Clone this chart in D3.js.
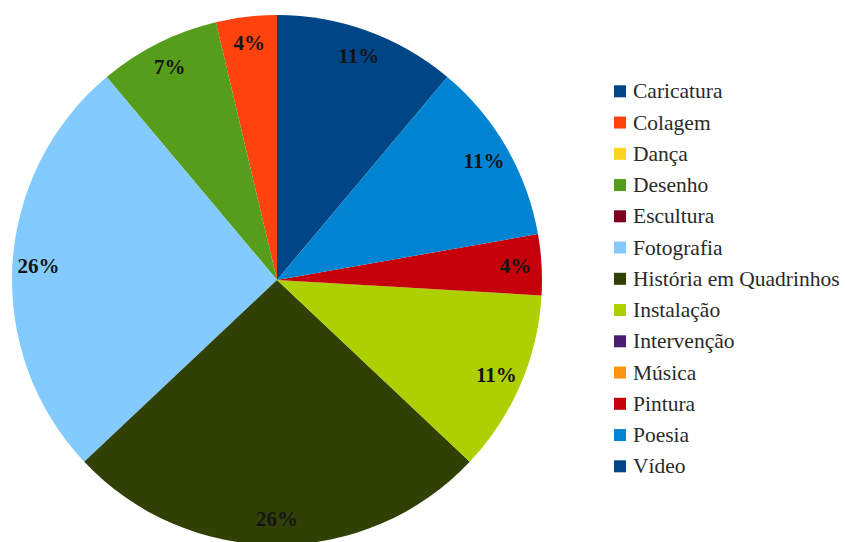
<!DOCTYPE html>
<html>
<head>
<meta charset="utf-8">
<script src="https://cdn.jsdelivr.net/npm/d3@7"></script>
<style>
  html, body { margin: 0; padding: 0; background: #fff; }
  svg text { font-family: "Liberation Serif", "Times New Roman", "DejaVu Serif", serif; }
</style>
</head>
<body>
<div id="chart"></div>
<script>
// Legend order (as in the original spreadsheet)
const categories = [
  'Caricatura', 'Colagem', 'Dança', 'Desenho', 'Escultura', 'Fotografia',
  'História em Quadrinhos', 'Instalação', 'Intervenção', 'Música',
  'Pintura', 'Poesia', 'Vídeo'
];
const counts = [3, 1, 0, 2, 0, 7, 7, 3, 0, 0, 1, 3, 0];
const colors = [
  '#004586', '#ff420e', '#ffd320', '#579d1c', '#7e0021', '#83caff',
  '#314004', '#aecf00', '#4b1f6f', '#ff950e', '#c5000b', '#0084d1', '#004586'
];

const width = 845, height = 542;
const cx = 277, cy = 280, radius = 265;

const data = categories.map((c, i) => ({ name: c, value: counts[i], color: colors[i] }));
const total = d3.sum(counts);

const svg = d3.select('#chart')
  .append('svg')
  .attr('width', width)
  .attr('height', height);

// Slices run counter-clockwise; first slice ends at 12 o'clock
const start = 2 * Math.PI * counts[0] / total;
const pie = d3.pie()
  .sort(null)
  .value(d => d.value)
  .startAngle(start)
  .endAngle(start - 2 * Math.PI);

const arc = d3.arc().innerRadius(0).outerRadius(radius);
const labelArc = d3.arc().innerRadius(239).outerRadius(239);

const g = svg.append('g')
  .attr('transform', `translate(${cx},${cy})`);

const slices = pie(data).filter(d => d.data.value > 0);

g.selectAll('path.slice')
  .data(slices)
  .enter().append('path')
  .attr('class', 'slice')
  .attr('d', arc)
  .attr('fill', d => d.data.color);

g.selectAll('text.pct')
  .data(slices)
  .enter().append('text')
  .attr('class', 'pct')
  .attr('transform', d => `translate(${labelArc.centroid(d)})`)
  .attr('text-anchor', 'middle')
  .attr('dy', '0.35em')
  .style('font-weight', 'bold')
  .style('font-size', '21px')
  .style('fill', '#141414')
  .text(d => Math.round(d.data.value / total * 100) + '%');

// Legend
const legendY = d3.scalePoint()
  .domain(categories)
  .range([91.3, 466.3]);

const legend = svg.append('g')
  .attr('class', 'legend');

const item = legend.selectAll('g.item')
  .data(data)
  .enter().append('g')
  .attr('class', 'item')
  .attr('transform', d => `translate(614,${legendY(d.name)})`);

item.append('rect')
  .attr('x', 0)
  .attr('y', -6)
  .attr('width', 12)
  .attr('height', 12)
  .attr('fill', d => d.color);

item.append('text')
  .attr('x', 19)
  .attr('y', 7)
  .style('font-size', '21.5px')
  .style('fill', '#2a2a2a')
  .text(d => d.name);
</script>
</body>
</html>
